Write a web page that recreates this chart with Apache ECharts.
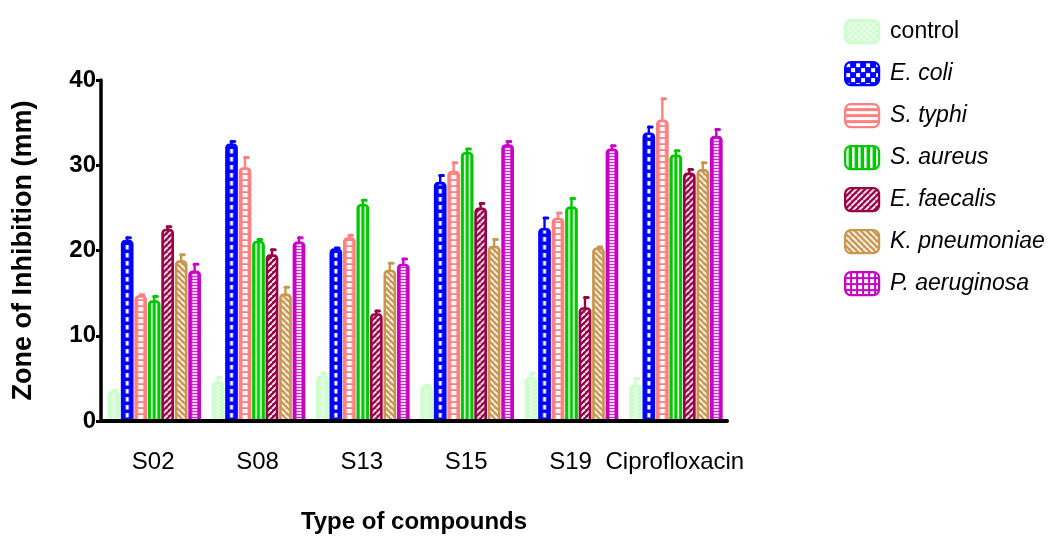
<!DOCTYPE html>
<html>
<head>
<meta charset="utf-8">
<script src="https://cdn.jsdelivr.net/npm/echarts@6/dist/echarts.min.js"></script>
<style>
  html, body { margin: 0; padding: 0; background: #fff; }
  #chart { width: 1054px; height: 539px; }
</style>
</head>
<body>
<div id="chart"></div>
<script>
// Zone of inhibition (mm) per compound and test organism, mean with SD.
const compounds = ['S02', 'S08', 'S13', 'S15', 'S19', 'Ciprofloxacin'];
const strainNames = ['control', 'E. coli', 'S. typhi', 'S. aureus', 'E. faecalis', 'K. pneumoniae', 'P. aeruginosa'];

const control      = [3.4, 4.5, 5.2, 4.0, 5.0, 4.1];
const controlSd    = [0.2, 0.6, 0.4, 0.2, 0.6, 0.9];
const eColi        = [21.1, 32.4, 20.1, 27.9, 22.5, 33.7];
const eColiSd      = [0.4, 0.4, 0.2, 0.9, 1.3, 0.8];
const sTyphi       = [14.6, 29.6, 21.4, 29.2, 23.7, 35.2];
const sTyphiSd     = [0.2, 1.3, 0.4, 1.1, 0.7, 2.6];
const sAureus      = [14.0, 21.0, 25.3, 31.4, 25.0, 31.1];
const sAureusSd    = [0.6, 0.3, 0.6, 0.5, 1.1, 0.6];
const eFaecalis    = [22.4, 19.4, 12.5, 24.9, 13.2, 29.0];
const eFaecalisSd  = [0.4, 0.7, 0.4, 0.6, 1.3, 0.5];
const kPneumoniae  = [18.7, 14.8, 17.6, 20.4, 20.2, 29.4];
const kPneumoniaeSd= [0.8, 0.9, 0.9, 0.9, 0.2, 0.9];
const pAeruginosa  = [17.5, 20.9, 18.3, 32.3, 31.8, 33.3];
const pAeruginosaSd= [0.9, 0.6, 0.7, 0.5, 0.5, 0.9];

const yTickValues = [0, 10, 20, 30, 40];

const means = [control, eColi, sTyphi, sAureus, eFaecalis, kPneumoniae, pAeruginosa];
const sds = [controlSd, eColiSd, sTyphiSd, sAureusSd, eFaecalisSd, kPneumoniaeSd, pAeruginosaSd];

const colors = ['#ccffcc', '#0000ff', '#ff8080', '#00c800', '#990045', '#c8964f', '#c800c8'];
const FONT = '"Liberation Sans", Arial, Helvetica, sans-serif';

// --- hatch tiles -----------------------------------------------------------
function tile(w, h, bg, mark, draw) {
  const c = document.createElement('canvas');
  c.width = w; c.height = h;
  const g = c.getContext('2d');
  g.fillStyle = bg; g.fillRect(0, 0, w, h);
  g.fillStyle = mark; g.strokeStyle = mark;
  draw(g, w, h);
  return c;
}
function diag(g, w, h, forward, lw) {
  g.lineWidth = lw;
  for (let k = -w; k <= w; k += w) {
    g.beginPath();
    if (forward) { g.moveTo(k, h); g.lineTo(k + w, 0); }
    else { g.moveTo(k, 0); g.lineTo(k + w, h); }
    g.stroke();
  }
}

// Bar fills, anchored on the bar centre line (tiles are 12px wide, centred at 6)
const barTiles = [
  tile(12, 4, colors[0], '#f2fff2', g => { g.fillRect(4, 0, 2, 2); g.fillRect(6, 2, 2, 2); }),
  tile(12, 8, colors[1], '#ffffff', g => { g.fillRect(4.5, 0, 3, 4.5); }),
  tile(12, 6.5, colors[2], '#ffffff', g => { g.fillRect(3.5, 0, 5, 4.2); }),
  tile(12, 4, colors[3], '#ffffff', g => { g.fillRect(2.8, 0, 1.6, 4); g.fillRect(7.6, 0, 1.6, 4); }),
  tile(6, 6, colors[4], '#ffffff', (g, w, h) => diag(g, w, h, true, 1.8)),
  tile(6, 6, colors[5], '#ffffff', (g, w, h) => diag(g, w, h, false, 1.8)),
  tile(12, 3.6, colors[6], '#ffffff', g => { g.fillRect(3.6, 0, 2.2, 2.2); g.fillRect(6.2, 0, 2.2, 2.2); })
];
const barPatterns = barTiles.map(img => ({ image: img, repeat: 'repeat', x: -6 }));

// Legend swatch fills
const legendTiles = [
  tile(6, 6, colors[0], '#eeffee', g => { g.fillRect(0, 0, 3, 3); g.fillRect(3, 3, 3, 3); }),
  tile(10, 10, colors[1], '#ffffff', g => { g.fillRect(1, 1, 4, 4); g.fillRect(6, 6, 4, 4); }),
  tile(4, 6, colors[2], '#ffffff', g => { g.fillRect(0, 1, 4, 3); }),
  tile(6, 4, colors[3], '#ffffff', g => { g.fillRect(1, 0, 2.5, 4); }),
  tile(6, 6, colors[4], '#ffffff', (g, w, h) => diag(g, w, h, true, 1.8)),
  tile(6, 6, colors[5], '#ffffff', (g, w, h) => diag(g, w, h, false, 1.8)),
  tile(6, 6, colors[6], '#ffffff', g => { g.fillRect(1, 1, 4, 4); })
];

// --- bar + error bar renderer ---------------------------------------------
const GROUP_FRACTION = 0.905;
const BAR_GAP = 0.8;
const BAR_LINE = 2.6;

function makeRenderer(idx) {
  const n = strainNames.length;
  return function (params, api) {
    const cat = api.value(0);
    const val = api.value(1);
    const sd = api.value(2);
    const base = api.coord([cat, 0]);
    const top = api.coord([cat, val]);
    const errTop = api.coord([cat, val + sd]);
    const band = api.size([1, 0])[0];
    const groupW = band * GROUP_FRACTION;
    const pitch = groupW / n;
    const cx = base[0] - groupW / 2 + pitch * (idx + 0.5) + 1;
    const w = pitch - BAR_GAP - BAR_LINE;
    const h = base[1] - top[1];
    const c = colors[idx];
    return {
      type: 'group',
      children: [
        {
          type: 'rect',
          x: cx, y: base[1],
          shape: { x: -w / 2, y: -h, width: w, height: h, r: [3, 3, 0, 0] },
          style: { fill: barPatterns[idx], stroke: c, lineWidth: BAR_LINE, lineJoin: 'round' }
        },
        {
          type: 'line',
          shape: { x1: cx, y1: top[1] - 1, x2: cx, y2: errTop[1] },
          style: { stroke: c, lineWidth: 2.4, lineCap: 'round' }
        },
        {
          type: 'line',
          shape: { x1: cx - 0.5, y1: errTop[1], x2: cx + 3.2, y2: errTop[1] },
          style: { stroke: c, lineWidth: 3, lineCap: 'round' }
        }
      ]
    };
  };
}

const series = strainNames.map((name, i) => ({
  name: name,
  type: 'custom',
  renderItem: makeRenderer(i),
  encode: { x: 0, y: 1 },
  itemStyle: { color: colors[i] },
  data: compounds.map((_, k) => [k, means[i][k], sds[i][k]])
}));

const chart = echarts.init(document.getElementById('chart'), null, { renderer: 'canvas' });
chart.setOption({
  animation: false,
  backgroundColor: '#ffffff',
  grid: { left: 101, right: 327, top: 80, bottom: 118, containLabel: false },
  legend: {
    orient: 'vertical',
    left: 839,
    top: 14,
    itemWidth: 34,
    itemHeight: 23,
    itemGap: 16.8,
    icon: 'roundRect',
    selectedMode: false,
    data: strainNames.map((name, i) => ({
      name: name,
      itemStyle: {
        color: { image: legendTiles[i], repeat: 'repeat' },
        borderColor: colors[i],
        borderWidth: 2.2
      }
    })),
    formatter: name => (name === 'control' ? name : '{i|' + name + '}'),
    textStyle: {
      fontFamily: FONT,
      fontSize: 23,
      color: '#000',
      lineHeight: 23,
      padding: [0, 0, 0, 6],
      rich: { i: { fontStyle: 'italic', fontFamily: FONT, fontSize: 23, color: '#000' } }
    }
  },
  xAxis: {
    type: 'category',
    data: compounds,
    z: 10,
    name: 'Type of compounds',
    nameLocation: 'middle',
    nameGap: 89,
    nameTextStyle: { fontFamily: FONT, fontSize: 24, fontWeight: 'bold', color: '#000' },
    axisLine: { lineStyle: { color: '#000', width: 4 } },
    axisTick: { alignWithLabel: true, length: 7, lineStyle: { color: '#000', width: 3 } },
    axisLabel: { fontFamily: FONT, fontSize: 24, color: '#000', margin: 29, interval: 0 },
    splitLine: { show: false }
  },
  yAxis: {
    type: 'value',
    min: yTickValues[0],
    max: yTickValues[yTickValues.length - 1],
    interval: yTickValues[1] - yTickValues[0],
    z: 10,
    name: 'Zone of Inhibition (mm)',
    nameLocation: 'middle',
    nameGap: 64,
    nameRotate: 90,
    nameTextStyle: { fontFamily: FONT, fontSize: 27, fontWeight: 'bold', color: '#000' },
    axisLine: { show: true, lineStyle: { color: '#000', width: 3.5 } },
    axisTick: { show: true, length: 5, lineStyle: { color: '#000', width: 3 } },
    axisLabel: { fontFamily: FONT, fontSize: 24, fontWeight: 'bold', color: '#000', margin: 5 },
    splitLine: { show: false }
  },
  series: series
});
</script>
</body>
</html>
